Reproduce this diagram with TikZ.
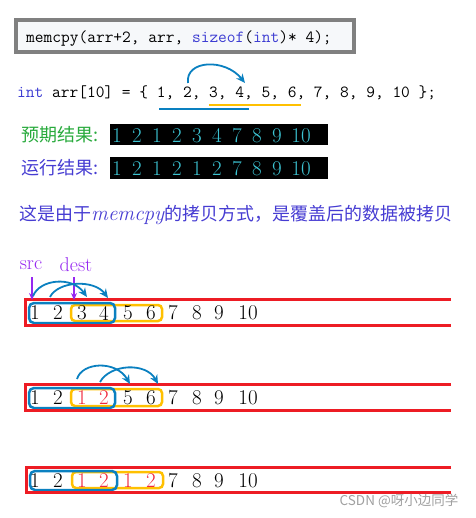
\documentclass[tikz,border=0pt]{standalone}
\usepackage{fontspec}
\newfontfamily\cjk{Noto Sans CJK SC}
\newfontfamily\codefont{Latin Modern Mono}
\usetikzlibrary{arrows.meta}
\definecolor{cblue}{RGB}{10,128,192}
\definecolor{corange}{RGB}{255,192,0}
\definecolor{cred}{RGB}{237,28,36}
\definecolor{cpurple}{RGB}{150,40,240}
\definecolor{kwblue}{RGB}{60,60,210}
\definecolor{cgreen}{RGB}{40,170,60}
\definecolor{labblue}{RGB}{70,60,210}
\definecolor{cyanr}{RGB}{60,195,210}
\definecolor{codebg}{RGB}{246,248,250}
\definecolor{rdigit}{RGB}{240,40,60}
\definecolor{bordergray}{RGB}{128,128,128}
\definecolor{wmgray}{RGB}{160,160,160}
\tikzset{
  codetxt/.style={anchor=base west, inner sep=0pt, font=\codefont\fontsize{16.95}{18}\selectfont},
  cjklab/.style={anchor=west, inner sep=0pt, font=\cjk\fontsize{18}{20}\selectfont},
  termdig/.style={inner sep=0pt, text=cyanr, font=\fontsize{21}{22}\selectfont},
  rowdig/.style={inner sep=0pt, font=\fontsize{21}{22}\selectfont},
  ptr/.style={inner sep=0pt, text=cpurple, font=\fontsize{20}{21}\selectfont},
  arc/.style={cblue, line width=1.8, -{Stealth[length=9pt,width=8pt]}},
  parrow/.style={cpurple, line width=1.7, -{Stealth[length=7pt,width=6pt]}},
  bluebox/.style={cblue, line width=2.5, rounded corners=5pt},
  orangebox/.style={corange, line width=2.5, rounded corners=4pt},
  redframe/.style={cred, line width=3},
}
\begin{document}
\begin{tikzpicture}[x=1pt,y=-1pt]
\useasboundingbox (0,0) rectangle (475,518);
% code box
\draw[line width=3.5, draw=bordergray, fill=codebg] (16,20) rectangle (354,52);
\node[codetxt] (code) at (26,43) {memcpy(arr+2, arr, \textcolor{kwblue}{sizeof}(\textcolor{kwblue}{int})* 4);};
% array declaration
\node[codetxt] (decl) at (17,98) {\textcolor{kwblue}{int} arr[10] = \{ 1, 2, 3, 4, 5, 6, 7, 8, 9, 10 \};};
\coordinate (d2) at (188,83);
\coordinate (d4) at (245,83);
\draw[arc] (d2) .. controls (185,60) and (225,58) .. (d4);
\coordinate (ub1) at (159,109); \coordinate (ub2) at (249,109);
\coordinate (uo1) at (209,105); \coordinate (uo2) at (301,105);
\draw[cblue, line width=2.6] (ub1) -- (ub2);
\draw[corange, line width=2.6] (uo1) -- (uo2);
% results
\node[cjklab, text=cgreen] (exp) at (21,135) {预期结果:};
\node[cjklab, text=labblue] (run) at (21,168) {运行结果:};
\fill[black] (110,124) rectangle (328,145);
\fill[black] (110,157) rectangle (328,179);
\foreach \d [count=\i from 0] in {1,2,1,2,3,4,7,8,9} {
  \node[termdig] (e\i) at (117+20*\i,135.5) {\d};
}
\node[termdig] (e9) at (301,135.5) {10};
\foreach \d [count=\i from 0] in {1,2,1,2,1,2,7,8,9} {
  \node[termdig] (r\i) at (117+20*\i,168.5) {\d};
}
\node[termdig] (r9) at (301,168.5) {10};
% explanation
\node[anchor=west, inner sep=0pt, text=labblue] (expl) at (19,215)
  {\cjk\fontsize{18}{20}\selectfont 这是由于{\fontspec{Latin Modern Roman}\fontsize{21}{22}\selectfont\itshape memcpy}的拷贝方式，是覆盖后的数据被拷贝};
% pointers
\node[ptr] (src) at (31,265) {src};
\node[ptr] (dest) at (76,265) {dest};
\coordinate (srcA) at (32,277); \coordinate (srcB) at (32,300);
\coordinate (destA) at (74,277); \coordinate (destB) at (74,300);
% rows
\def\xs{{35,58,82,104,128,151,173,197,219,248}}
% row 1
\draw[orangebox] (71,305) rectangle (162,321);
\draw[bluebox] (29,303) rectangle (115,323);
\foreach \d [count=\i from 0] in {1,2,3,4,5,6,7,8,9,10} {
  \pgfmathsetmacro\xx{\xs[\i]}
  \node[rowdig] (a\i) at (\xx,313) {\d};
}
\draw[redframe] (451,299) -- (25,299) -- (25,325) -- (451,325);
\draw[parrow] (srcA) -- (srcB);
\draw[parrow] (destA) -- (destB);
\coordinate (p1) at (33,296); \coordinate (q1) at (87,297);
\coordinate (p2) at (50,297); \coordinate (q2) at (108,298);
\draw[arc] (p1) .. controls (40,279) and (72,276) .. (q1);
\draw[arc] (p2) .. controls (58,281) and (94,279) .. (q2);
% row 2
\draw[orangebox] (71,389) rectangle (162,406);
\draw[bluebox] (29,388) rectangle (115,408);
\foreach \d/\c [count=\i from 0] in {1/black,2/black,1/rdigit,2/rdigit,5/black,6/black,7/black,8/black,9/black,10/black} {
  \pgfmathsetmacro\xx{\xs[\i]}
  \node[rowdig, text=\c] (b\i) at (\xx,398) {\d};
}
\draw[redframe] (451,384) -- (25,384) -- (25,410) -- (451,410);
\coordinate (p3) at (77,379); \coordinate (q3) at (130,384);
\coordinate (p4) at (100,382); \coordinate (q4) at (158,384);
\draw[arc] (p3) .. controls (82,362) and (116,360) .. (q3);
\draw[arc] (p4) .. controls (110,364) and (146,362) .. (q4);
% row 3
\draw[orangebox] (72,472) rectangle (163,488);
\draw[bluebox] (30,471) rectangle (117,490);
\foreach \d/\c [count=\i from 0] in {1/black,2/black,1/rdigit,2/rdigit,1/rdigit,2/rdigit,7/black,8/black,9/black,10/black} {
  \pgfmathsetmacro\xx{\xs[\i]}
  \node[rowdig, text=\c] (c\i) at (\xx,481) {\d};
}
\draw[redframe] (451,467) -- (26,467) -- (26,492) -- (451,492);
% watermark
\node[inner sep=0pt, text=wmgray, font=\cjk\fontsize{13.5}{15}\selectfont] (wm) at (399,501) {CSDN @呀小边同学};
\end{tikzpicture}
\end{document}
